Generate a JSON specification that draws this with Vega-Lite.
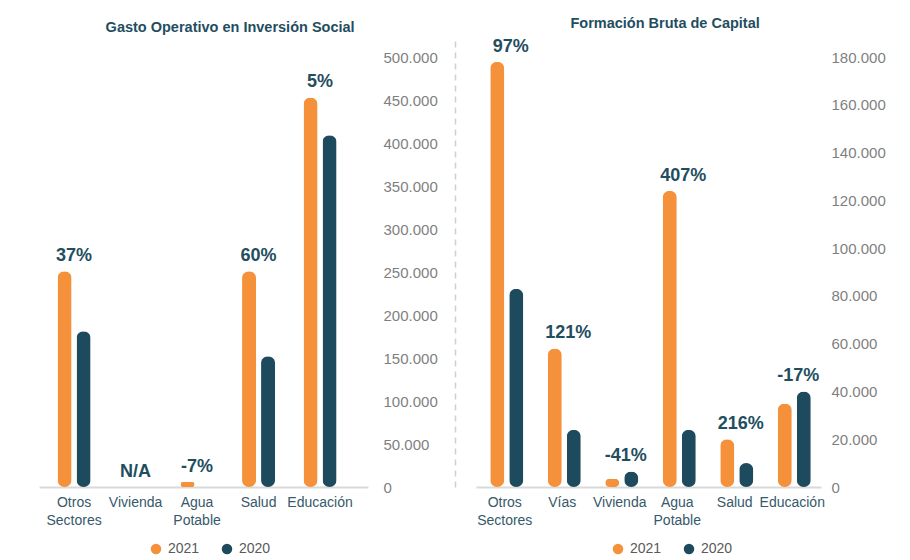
{
  "$schema": "https://vega.github.io/schema/vega-lite/v6.json",
  "padding": {"left": 39, "top": 16, "right": 0, "bottom": 0},
  "background": "white",
  "config": {
    "font": "Liberation Sans",
    "view": {"stroke": null},
    "concat": {"spacing": 17},
    "title": {"fontSize": 14.5, "fontWeight": "bold", "color": "#1F4E5F", "anchor": "middle", "offset": 6, "frame": "bounds"},
    "legend": {"labelFontSize": 14, "labelColor": "#595959", "symbolType": "circle", "symbolSize": 110, "symbolStrokeWidth": 0, "columnPadding": 20, "labelOffset": 5}
  },
  "datasets": {
    "gasto": [
      {"cat": "Otros Sectores", "year": "2021", "value": 251000, "pct": "37%"},
      {"cat": "Otros Sectores", "year": "2020", "value": 181000, "pct": "37%"},
      {"cat": "Vivienda", "year": "2021", "value": 0, "pct": "N/A"},
      {"cat": "Vivienda", "year": "2020", "value": 0, "pct": "N/A"},
      {"cat": "Agua Potable", "year": "2021", "value": 6000, "pct": "-7%"},
      {"cat": "Salud", "year": "2021", "value": 251000, "pct": "60%"},
      {"cat": "Salud", "year": "2020", "value": 152000, "pct": "60%"},
      {"cat": "Educación", "year": "2021", "value": 453000, "pct": "5%"},
      {"cat": "Educación", "year": "2020", "value": 409000, "pct": "5%"}
    ],
    "fbk": [
      {"cat": "Otros Sectores", "year": "2021", "value": 178000, "pct": "97%"},
      {"cat": "Otros Sectores", "year": "2020", "value": 83000, "pct": "97%"},
      {"cat": "Vías", "year": "2021", "value": 58000, "pct": "121%"},
      {"cat": "Vías", "year": "2020", "value": 24000, "pct": "121%"},
      {"cat": "Vivienda", "year": "2021", "value": 3500, "pct": "-41%"},
      {"cat": "Vivienda", "year": "2020", "value": 6500, "pct": "-41%"},
      {"cat": "Agua Potable", "year": "2021", "value": 124000, "pct": "407%"},
      {"cat": "Agua Potable", "year": "2020", "value": 24000, "pct": "407%"},
      {"cat": "Salud", "year": "2021", "value": 20000, "pct": "216%"},
      {"cat": "Salud", "year": "2020", "value": 10000, "pct": "216%"},
      {"cat": "Educación", "year": "2021", "value": 35000, "pct": "-17%"},
      {"cat": "Educación", "year": "2020", "value": 40000, "pct": "-17%"}
    ]
  },
  "resolve": {"scale": {"color": "independent"}, "legend": {"color": "independent"}},
  "hconcat": [
    {
      "width": 329,
      "height": 446,
      "title": {"text": "Gasto Operativo en Inversión Social", "dx": -8},
      "data": {"name": "gasto"},
      "layer": [
        {
          "mark": {"type": "bar", "cornerRadius": 7},
          "encoding": {
            "x": {"field": "cat", "type": "nominal", "sort": ["Otros Sectores", "Vivienda", "Agua Potable", "Salud", "Educación"],
              "scale": {"paddingInner": 0, "paddingOuter": 0.175, "align": 0.2},
              "axis": {"title": null, "orient": "bottom", "domainColor": "#D9D9D9", "domainWidth": 2, "ticks": false, "labelAngle": 0, "labelFontSize": 14, "labelColor": "#36596B", "labelPadding": 8, "labelLineHeight": 18, "labelExpr": "split(datum.label, ' ')"}},
            "xOffset": {"field": "year", "type": "nominal", "sort": ["2021", "2020"], "scale": {"paddingInner": 0.263, "paddingOuter": 0.75}},
            "y": {"field": "value", "type": "quantitative", "scale": {"domain": [0, 518605], "nice": false},
              "axis": {"title": null, "orient": "right", "grid": false, "ticks": false, "domain": false, "labelPadding": 15, "labelFontSize": 15, "labelColor": "#7F7F7F",
                "values": [0, 50000, 100000, 150000, 200000, 250000, 300000, 350000, 400000, 450000, 500000],
                "labelExpr": "replace(format(datum.value, ','), ',', '.')"}},
            "color": {"field": "year", "type": "nominal", "scale": {"domain": ["2021", "2020"], "range": ["#F4913A", "#1E4A5D"]},
              "legend": {"title": null, "orient": "none", "direction": "horizontal", "legendX": 110, "legendY": 501}}
          }
        },
        {
          "transform": [
            {"joinaggregate": [{"op": "max", "field": "value", "as": "top"}], "groupby": ["cat"]},
            {"filter": "datum.year == '2021'"}
          ],
          "mark": {"type": "text", "fontWeight": "bold", "fontSize": 18, "color": "#1F4E5F", "dy": -15},
          "encoding": {
            "x": {"field": "cat", "type": "nominal", "sort": ["Otros Sectores", "Vivienda", "Agua Potable", "Salud", "Educación"]},
            "y": {"field": "top", "type": "quantitative", "title": null},
            "text": {"field": "pct"}
          }
        }
      ]
    },
    {
      "width": 345,
      "height": 446,
      "title": {"text": "Formación Bruta de Capital", "dx": -5},
      "data": {"name": "fbk"},
      "resolve": {"axis": {"y": "independent"}},
      "layer": [
        {
          "mark": {"type": "bar", "cornerRadius": 7},
          "encoding": {
            "x": {"field": "cat", "type": "nominal", "sort": ["Otros Sectores", "Vías", "Vivienda", "Agua Potable", "Salud", "Educación"],
              "scale": {"paddingInner": 0, "paddingOuter": 0},
              "axis": {"title": null, "orient": "bottom", "domainColor": "#D9D9D9", "domainWidth": 2, "ticks": false, "labelAngle": 0, "labelFontSize": 14, "labelColor": "#36596B", "labelPadding": 8, "labelLineHeight": 18, "labelExpr": "split(datum.label, ' ')"}},
            "xOffset": {"field": "year", "type": "nominal", "sort": ["2021", "2020"], "scale": {"paddingInner": 0.263, "paddingOuter": 0.62}},
            "y": {"field": "value", "type": "quantitative", "scale": {"domain": [0, 186698], "nice": false},
              "axis": {"title": null, "orient": "right", "grid": false, "ticks": false, "domain": false, "labelPadding": 10, "labelFontSize": 15, "labelColor": "#7F7F7F",
                "values": [0, 20000, 40000, 60000, 80000, 100000, 120000, 140000, 160000, 180000],
                "labelExpr": "replace(format(datum.value, ','), ',', '.')"}},
            "color": {"field": "year", "type": "nominal", "scale": {"domain": ["2021", "2020"], "range": ["#F4913A", "#1E4A5D"]},
              "legend": {"title": null, "orient": "none", "direction": "horizontal", "legendX": 135, "legendY": 501}}
          }
        },
        {
          "transform": [
            {"joinaggregate": [{"op": "max", "field": "value", "as": "top"}], "groupby": ["cat"]},
            {"filter": "datum.year == '2021'"}
          ],
          "mark": {"type": "text", "fontWeight": "bold", "fontSize": 18, "color": "#1F4E5F", "dy": -15, "dx": 6},
          "encoding": {
            "x": {"field": "cat", "type": "nominal", "sort": ["Otros Sectores", "Vías", "Vivienda", "Agua Potable", "Salud", "Educación"]},
            "y": {"field": "top", "type": "quantitative", "axis": null},
            "text": {"field": "pct"}
          }
        },
        {
          "mark": {"type": "point", "opacity": 0},
          "encoding": {
            "y": {"field": "value", "type": "quantitative",
              "axis": {"title": null, "orient": "left", "grid": false, "ticks": false, "labels": false, "domain": true, "domainDash": [6, 5], "domainColor": "#CFCFCF", "domainWidth": 1.5, "offset": 21}}
          }
        }
      ]
    }
  ]
}
